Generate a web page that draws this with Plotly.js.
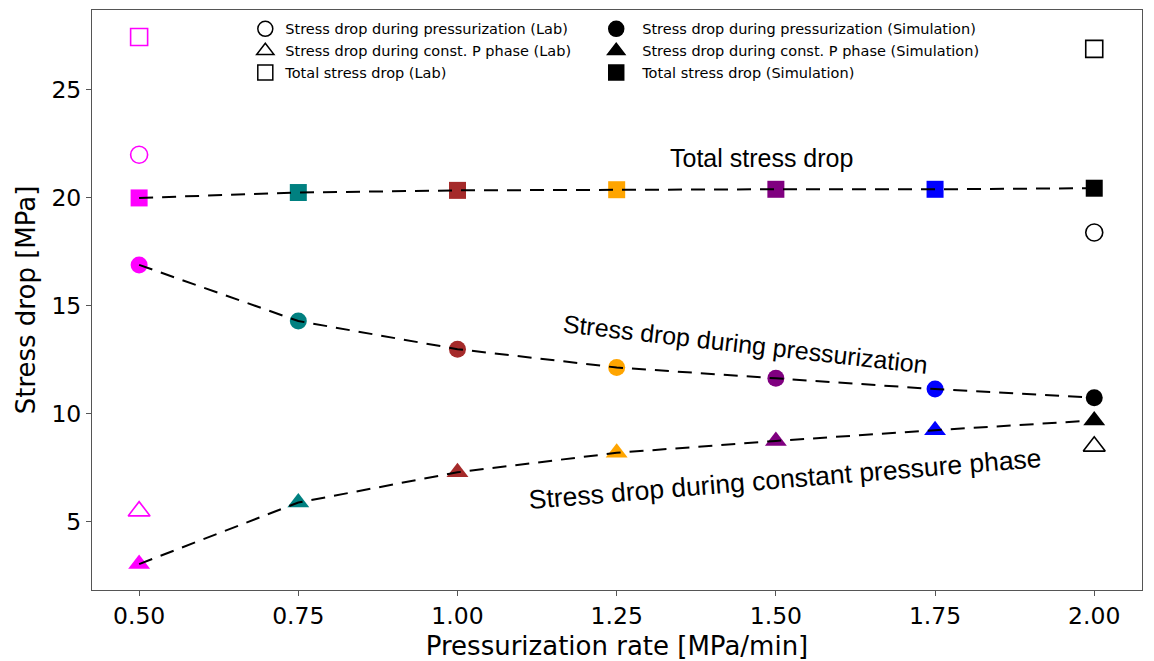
<!DOCTYPE html>
<html><head><meta charset="utf-8">
<script src="https://cdn.plot.ly/plotly-3.0.1.min.js"></script>
<style>body{margin:0;background:#fff}#chart{width:1154px;height:661px}</style>
</head><body><div id="chart"></div>
<script>
const rates = [0.5, 0.75, 1.0, 1.25, 1.5, 1.75, 2.0];
const pointColors = ['#ff00ff', '#008080', '#a52a2a', '#ffa500', '#800080', '#0000ff', '#000000'];
const simPressurization = [16.9, 14.3, 13.0, 12.15, 11.65, 11.15, 10.75];
const simConstP = [3.05, 5.9, 7.3, 8.2, 8.75, 9.25, 9.7];
const simTotal = [20.0, 20.25, 20.35, 20.38, 20.4, 20.4, 20.45];
const labRates = [0.5, 2.0];
const labColors = ['#ff00ff', '#000000'];
const labPressurization = [22.0, 18.4];
const labConstP = [5.5, 8.5];
const labTotal = [27.45, 26.9];

const traces = [];
function markers(x, y, sym, colors, open, size) {
  traces.push({x: x, y: y, mode: 'markers', type: 'scatter', showlegend: false, cliponaxis: false,
    marker: open ? {symbol: sym + '-open', size: size, color: colors, line: {width: 1.6, color: colors}}
                 : {symbol: sym, size: size, color: colors, line: {width: 0}}});
}
markers(rates, simTotal, 'square', pointColors, false, 17);
markers(rates, simPressurization, 'circle', pointColors, false, 17);
markers(rates, simConstP, 'triangle-up', pointColors, false, 19);
markers(labRates, labTotal, 'square', labColors, true, 17);
markers(labRates, labPressurization, 'circle', labColors, true, 17);
markers(labRates, labConstP, 'triangle-up', labColors, true, 19);
[simTotal, simPressurization, simConstP].forEach(s => traces.push({
  x: rates, y: s, mode: 'lines', type: 'scatter', showlegend: false,
  line: {color: '#000', width: 2, dash: '14px,9px'}}));

const legendItems = [
  ['Stress drop during pressurization (Lab)', 'circle-open', 'legend'],
  ['Stress drop during const. P phase (Lab)', 'triangle-up-open', 'legend'],
  ['Total stress drop (Lab)', 'square-open', 'legend'],
  ['Stress drop during pressurization (Simulation)', 'circle', 'legend2'],
  ['Stress drop during const. P phase (Simulation)', 'triangle-up', 'legend2'],
  ['Total stress drop (Simulation)', 'square', 'legend2']
];
legendItems.forEach(it => traces.push({x: [null], y: [null], mode: 'markers', type: 'scatter',
  name: it[0], legend: it[2],
  marker: {symbol: it[1], size: 15, color: '#000', line: {width: 1.5, color: '#000'}}}));

const legFont = {family: 'DejaVu Sans', size: 14.5, color: '#000'};
const annFont = {family: 'Liberation Sans', size: 25, color: '#000'};
const layout = {
  width: 1154, height: 661,
  margin: {l: 92, r: 12, t: 10, b: 71},
  paper_bgcolor: '#fff', plot_bgcolor: '#fff',
  font: {family: 'DejaVu Sans', color: '#000'},
  xaxis: {range: [0.426, 2.075], tickvals: rates, ticktext: ['0.50','0.75','1.00','1.25','1.50','1.75','2.00'],
    showgrid: false, zeroline: false, showline: true, mirror: true, linecolor: '#555', linewidth: 1,
    ticks: 'outside', ticklen: 5, tickcolor: '#555', tickfont: {size: 23.5},
    title: {text: 'Pressurization rate [MPa/min]', font: {size: 26}, standoff: 8}},
  yaxis: {range: [1.85, 28.7], tickvals: [5, 10, 15, 20, 25],
    showgrid: false, zeroline: false, showline: true, mirror: true, linecolor: '#555', linewidth: 1,
    ticks: 'outside', ticklen: 5, tickcolor: '#555', tickfont: {size: 23.5},
    title: {text: 'Stress drop [MPa]', font: {size: 26}, standoff: 8}},
  legend: {x: 0.146, y: 0.995, xanchor: 'left', yanchor: 'top', bgcolor: 'rgba(0,0,0,0)', font: legFont, tracegroupgap: 0},
  legend2: {x: 0.4745, y: 0.995, xanchor: 'left', yanchor: 'top', bgcolor: 'rgba(0,0,0,0)', font: legFont, tracegroupgap: 0, itemwidth: 42},
  annotations: [
    {x: 1.477, y: 21.85, text: 'Total stress drop', showarrow: false, font: annFont},
    {x: 1.452, y: 13.24, text: 'Stress drop during pressurization', textangle: 6.5, showarrow: false, font: annFont},
    {x: 1.514, y: 6.99, text: 'Stress drop during constant pressure phase', textangle: -4.7, showarrow: false, font: {family: 'Liberation Sans', size: 26.5, color: '#000'}}
  ]
};
Plotly.newPlot('chart', traces, layout, {displayModeBar: false});
</script></body></html>
